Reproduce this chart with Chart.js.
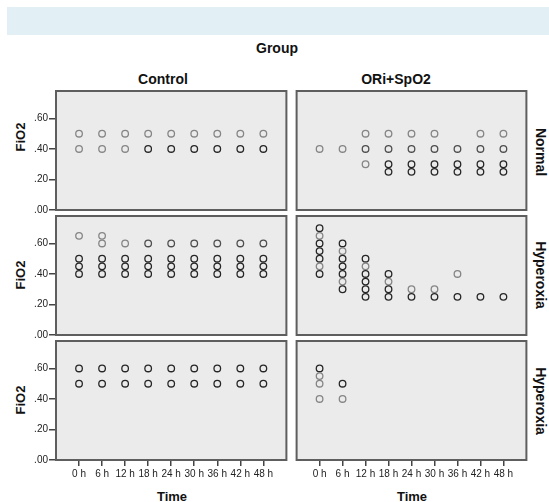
<!DOCTYPE html>
<html>
<head>
<meta charset="utf-8">
<script src="https://cdn.jsdelivr.net/npm/chart.js@4"></script>
<style>
    body { margin: 0; background: #fff; }
    #wrap { position: relative; width: 549px; height: 502px; overflow: hidden; font-family: "Liberation Sans", Arial, sans-serif; color: #111; }
    #band { position: absolute; left: 7px; top: 7px; width: 542px; height: 28px; background: #e2f0f5; }
    .lbl { position: absolute; font-weight: bold; font-size: 14px; white-space: nowrap; transform: translate(-50%, -50%); }
    .rot-l { transform: translate(-50%, -50%) rotate(-90deg); }
    .rot-r { transform: translate(-50%, -50%) rotate(90deg); }
    .pane { position: absolute; }
</style>
</head>
<body>
<div id="wrap">
    <div id="band"></div>
    <div class="lbl" style="left:277px; top:48px">Group</div>
    <div class="lbl" style="left:163px; top:79px">Control</div>
    <div class="lbl" style="left:396px; top:79px">ORi+SpO2</div>

    <div class="lbl rot-l" style="left:20px; top:137px; font-size:13px">FiO2</div>
    <div class="lbl rot-l" style="left:20px; top:275px; font-size:13px">FiO2</div>
    <div class="lbl rot-l" style="left:20px; top:400px; font-size:13px">FiO2</div>

    <div class="lbl rot-r" style="left:541px; top:152px">Normal</div>
    <div class="lbl rot-r" style="left:541px; top:275px">Hyperoxia</div>
    <div class="lbl rot-r" style="left:541px; top:401px">Hyperoxia</div>

    <div class="lbl" style="left:172px; top:496px; font-size:13px">Time</div>
    <div class="lbl" style="left:412px; top:496px; font-size:13px">Time</div>
</div>
<script>
// x categories and y tick values
const timeLabels = ["0 h", "6 h", "12 h", "18 h", "24 h", "30 h", "36 h", "42 h", "48 h"]
const yTicks = [0, 0.2, 0.4, 0.6]

// each point: [time index, FiO2, number of overlapping cases]
const controlNormal = [
    [0, .5, 1], [0, .4, 1], [1, .5, 1], [1, .4, 1], [2, .5, 1], [2, .4, 1],
    [3, .5, 1], [3, .4, 3], [4, .5, 1], [4, .4, 3], [5, .5, 1], [5, .4, 3],
    [6, .5, 1], [6, .4, 3], [7, .5, 1], [7, .4, 3], [8, .5, 1], [8, .4, 3]
]
const oriNormal = [
    [0, .4, 1], [1, .4, 1],
    [2, .5, 1], [2, .4, 2], [2, .3, 1],
    [3, .5, 1], [3, .4, 2], [3, .3, 3], [3, .25, 3],
    [4, .5, 1], [4, .4, 2], [4, .3, 3], [4, .25, 3],
    [5, .5, 1], [5, .4, 2], [5, .3, 3], [5, .25, 3],
    [6, .4, 2], [6, .3, 3], [6, .25, 3],
    [7, .5, 1], [7, .4, 2], [7, .3, 3], [7, .25, 3],
    [8, .5, 1], [8, .4, 2], [8, .3, 3], [8, .25, 3]
]
const controlHyper = [
    [0, .65, 1], [0, .5, 3], [0, .45, 3], [0, .4, 3],
    [1, .65, 1], [1, .6, 1], [1, .5, 3], [1, .45, 3], [1, .4, 3],
    [2, .6, 1], [2, .5, 3], [2, .45, 3], [2, .4, 3],
    [3, .6, 2], [3, .5, 3], [3, .45, 3], [3, .4, 3],
    [4, .6, 2], [4, .5, 3], [4, .45, 3], [4, .4, 3],
    [5, .6, 2], [5, .5, 3], [5, .45, 3], [5, .4, 3],
    [6, .6, 2], [6, .5, 3], [6, .45, 3], [6, .4, 3],
    [7, .6, 2], [7, .5, 3], [7, .45, 3], [7, .4, 3],
    [8, .6, 2], [8, .5, 3], [8, .45, 3], [8, .4, 3]
]
const oriHyper = [
    [0, .7, 3], [0, .65, 1], [0, .6, 3], [0, .55, 3], [0, .5, 3], [0, .45, 1], [0, .4, 3],
    [1, .6, 3], [1, .55, 1], [1, .5, 3], [1, .45, 3], [1, .4, 3], [1, .35, 1], [1, .3, 3],
    [2, .5, 3], [2, .45, 1], [2, .4, 3], [2, .35, 3], [2, .3, 3], [2, .25, 3],
    [3, .4, 3], [3, .35, 1], [3, .3, 3], [3, .25, 3],
    [4, .3, 1], [4, .25, 3],
    [5, .3, 1], [5, .25, 3],
    [6, .4, 1], [6, .25, 3],
    [7, .25, 3],
    [8, .25, 3]
]
const controlHyper2 = [
    [0, .6, 3], [0, .5, 3], [1, .6, 3], [1, .5, 3], [2, .6, 3], [2, .5, 3],
    [3, .6, 3], [3, .5, 3], [4, .6, 3], [4, .5, 3], [5, .6, 3], [5, .5, 3],
    [6, .6, 3], [6, .5, 3], [7, .6, 3], [7, .5, 3], [8, .6, 3], [8, .5, 3]
]
const oriHyper2 = [
    [0, .6, 3], [0, .55, 1], [0, .5, 1], [0, .4, 1],
    [1, .5, 3], [1, .4, 1]
]

const panelTops = [91, 216, 341]
const panelH = 119
const panelW = 231
const colLeft = [56, 296]

//fills the plot area grey and draws its frame
const panelBox = {
    id: "panelBox",
    beforeDraw(chart) {
        const a = chart.chartArea
        const ctx = chart.ctx
        ctx.save()
        ctx.fillStyle = "#ebebeb"
        ctx.fillRect(a.left, a.top, a.right - a.left, a.bottom - a.top)
        ctx.restore()
    },
    afterDraw(chart) {
        const a = chart.chartArea
        const ctx = chart.ctx
        ctx.save()
        ctx.strokeStyle = "#5e5e5e"
        ctx.lineWidth = 2
        ctx.strokeRect(a.left, a.top, a.right - a.left, a.bottom - a.top)
        ctx.restore()
    }
}

function shade(n) {
    if (n >= 3) return "#262626"
    if (n === 2) return "#4e4e4e"
    return "#858585"
}

function makePanel(col, row, points) {
    const showY = col === 0
    const showX = row === 2
    const padL = showY ? 0 : 4
    const yW = 56
    const xH = 30

    const div = document.createElement("div")
    div.className = "pane"
    const left = showY ? 0 : colLeft[1] - padL
    const width = (showY ? yW : padL) + panelW + 4
    const top = panelTops[row] - 8
    const height = 8 + panelH + (showX ? xH : 8)
    div.style.left = left + "px"
    div.style.top = top + "px"
    const canvas = document.createElement("canvas")
    canvas.width = width
    canvas.height = height
    canvas.style.width = width + "px"
    canvas.style.height = height + "px"
    div.appendChild(canvas)
    document.getElementById("wrap").appendChild(div)

    new Chart(canvas, {
        type: "scatter",
        data: {
            datasets: [{
                data: points.map(p => ({ x: p[0], y: p[1] })),
                pointRadius: 3.3,
                pointHoverRadius: 3.3,
                pointBorderWidth: 1.3,
                pointBackgroundColor: "rgba(0,0,0,0)",
                pointBorderColor: points.map(p => shade(p[2]))
            }]
        },
        options: {
            responsive: false,
            animation: false,
            devicePixelRatio: 1,
            layout: { padding: { left: padL, right: 4, top: 8, bottom: showX ? 0 : 8 } },
            plugins: { legend: { display: false }, tooltip: { enabled: false } },
            scales: {
                x: {
                    type: "linear",
                    min: -1,
                    max: 9,
                    display: showX,
                    afterBuildTicks: s => { s.ticks = timeLabels.map((_, i) => ({ value: i })) },
                    afterFit: s => { if (showX) s.height = xH },
                    border: { display: false },
                    grid: { drawOnChartArea: false, tickLength: 6, color: "#444", lineWidth: 1.5 },
                    ticks: {
                        callback: v => timeLabels[v],
                        autoSkip: false,
                        maxRotation: 0,
                        padding: 2,
                        color: "#222",
                        font: { family: "Liberation Sans", size: 10 }
                    }
                },
                y: {
                    min: 0,
                    max: 0.78,
                    display: showY,
                    afterBuildTicks: s => { s.ticks = yTicks.map(v => ({ value: v })) },
                    afterFit: s => { if (showY) s.width = yW },
                    border: { display: false },
                    grid: { drawOnChartArea: false, tickLength: 7, color: "#444", lineWidth: 1.5 },
                    ticks: {
                        callback: v => v.toFixed(2).replace("0.", "."),
                        padding: 1,
                        color: "#222",
                        font: { family: "Liberation Sans", size: 10 }
                    }
                }
            }
        },
        plugins: [panelBox]
    })
}

makePanel(0, 0, controlNormal)
makePanel(1, 0, oriNormal)
makePanel(0, 1, controlHyper)
makePanel(1, 1, oriHyper)
makePanel(0, 2, controlHyper2)
makePanel(1, 2, oriHyper2)
</script>
</body>
</html>
